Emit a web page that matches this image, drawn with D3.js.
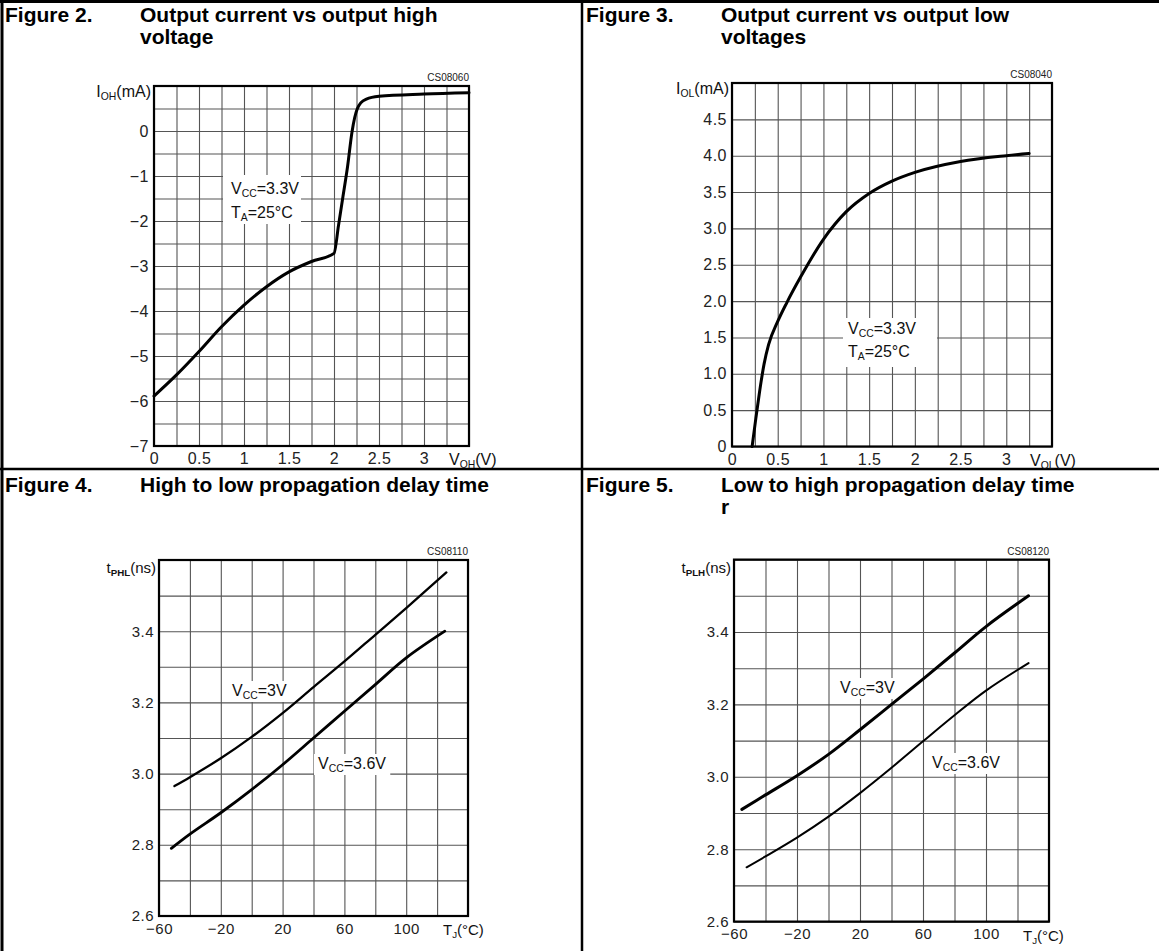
<!DOCTYPE html>
<html>
<head>
<meta charset="utf-8">
<script src="https://d3js.org/d3.v7.min.js"></script>
<style>
  body { margin: 0; background: #fff; }
  svg { display: block; }
</style>
</head>
<body>
<div id="chart"></div>
<script>
// Figure 2 : I_OH vs V_OH
let fig2Voh = [0, 0.25, 0.5, 0.75, 1.0, 1.25, 1.5, 1.75, 2.0, 2.05, 2.1, 2.15, 2.2, 2.23, 2.26, 2.3, 2.36, 2.5, 3.0, 3.5];
let fig2Ioh = [-5.89, -5.42, -4.9, -4.35, -3.87, -3.46, -3.13, -2.9, -2.72, -2.1, -1.45, -0.8, -0.02, 0.3, 0.5, 0.63, 0.71, 0.77, 0.82, 0.85];

// Figure 3 : I_OL vs V_OL
let fig3Vol = [0.22, 0.26, 0.3, 0.35, 0.4, 0.5, 0.6, 0.75, 1.0, 1.25, 1.5, 1.75, 2.0, 2.5, 3.0, 3.25];
let fig3Iol = [0, 0.38, 0.74, 1.13, 1.40, 1.72, 1.98, 2.33, 2.85, 3.23, 3.48, 3.65, 3.77, 3.92, 4.0, 4.03];

// Figure 4 : tPHL vs Tj
let fig4Temp3V = [-50, -40, -20, 0, 20, 40, 60, 80, 100, 126];
let fig4Phl3V = [2.965, 2.99, 3.043, 3.103, 3.17, 3.243, 3.315, 3.39, 3.465, 3.565];
let fig4Temp36V = [-52, -40, -20, 0, 20, 40, 60, 80, 100, 125];
let fig4Phl36V = [2.79, 2.83, 2.89, 2.955, 3.025, 3.10, 3.175, 3.25, 3.325, 3.40];

// Figure 5 : tPLH vs Tj
let fig5Temp3V = [-55, -40, -20, 0, 20, 40, 60, 80, 100, 127];
let fig5Plh3V = [2.91, 2.95, 3.003, 3.062, 3.13, 3.20, 3.27, 3.342, 3.415, 3.50];
let fig5Temp36V = [-52, -40, -20, 0, 20, 40, 60, 80, 100, 127];
let fig5Plh36V = [2.75, 2.78, 2.832, 2.89, 2.955, 3.025, 3.098, 3.17, 3.238, 3.314];

// tick labels
let voltTicks = [0, 0.5, 1, 1.5, 2, 2.5, 3];
let fig2YTicks = [-7, -6, -5, -4, -3, -2, -1, 0];
let fig3YTicks = [0, 0.5, 1, 1.5, 2, 2.5, 3, 3.5, 4, 4.5];
let tempTicks = [-60, -20, 20, 60, 100];
let delayTicks = [2.6, 2.8, 3.0, 3.2, 3.4];

let svgWidth = 1159;
let svgHeight = 951;
let labelFont = "'Liberation Sans', Arial, sans-serif";

let svg = d3.select("#chart")
  .append("svg")
  .attr("width", svgWidth)
  .attr("height", svgHeight);

svg.append("rect").attr("width", svgWidth).attr("height", svgHeight).attr("fill", "#fff");

// text with subscripts: parts = [[text, isSub, bold], ...]
function richText(g, x, y, parts, opts) {
  opts = opts || {};
  let size = opts.size || 15;
  let t = g.append("text")
    .attr("x", x)
    .attr("y", y)
    .attr("font-family", labelFont)
    .attr("font-size", size)
    .attr("fill", "#111")
    .attr("text-anchor", opts.anchor || "start");
  let sub = false;
  parts.forEach(p => {
    let s = t.append("tspan").text(p[0]);
    if (p[1] && !sub) { s.attr("dy", 3).attr("font-size", size * 0.65); sub = true; }
    else if (p[1]) { s.attr("font-size", size * 0.65); }
    else if (!p[1] && sub) { s.attr("dy", -3); sub = false; }
    if (p[2]) s.attr("font-weight", "bold");
  });
  return t;
}

// white box behind a label
function boxed(g, textSel, pad) {
  let b = textSel.node().getBBox();
  g.insert("rect", () => textSel.node())
    .attr("x", b.x - pad)
    .attr("y", b.y - 1)
    .attr("width", b.width + pad * 2)
    .attr("height", b.height + 2)
    .attr("fill", "#fff");
}

function makePanel(o) {
  let g = svg.append("g");
  let x = d3.scaleLinear().domain(o.xDomain).range([o.left, o.right]);
  let y = d3.scaleLinear().domain(o.yDomain).range([o.bottom, o.top]);
  let w = o.right - o.left;
  let h = o.bottom - o.top;

  // vertical grid
  g.append("g")
    .attr("transform", `translate(0,${o.bottom})`)
    .call(d3.axisBottom(x).tickValues(d3.range(o.xDomain[0], o.xDomain[1] + 1e-9, o.xStep)).tickSize(-h).tickFormat(""))
    .call(a => a.select(".domain").remove())
    .selectAll("line").attr("stroke", "#555").attr("stroke-width", 1.1);

  // horizontal grid
  g.append("g")
    .attr("transform", `translate(${o.left},0)`)
    .call(d3.axisLeft(y).tickValues(d3.range(o.yDomain[0], o.yDomain[1] + 1e-9, o.yStep)).tickSize(-w).tickFormat(""))
    .call(a => a.select(".domain").remove())
    .selectAll("line").attr("stroke", "#555").attr("stroke-width", 1.1);

  // y tick labels
  g.append("g")
    .attr("transform", `translate(${o.left - 2},0)`)
    .call(d3.axisLeft(y).tickValues(o.yTicks).tickSize(0).tickPadding(3).tickFormat(o.yFormat))
    .call(a => a.select(".domain").remove())
    .attr("font-family", labelFont)
    .attr("font-size", o.tickSize)
    .attr("letter-spacing", 0.5)
    .selectAll("text").attr("fill", "#222");

  // x tick labels
  g.append("g")
    .attr("transform", `translate(0,${o.bottom})`)
    .call(d3.axisBottom(x).tickValues(o.xTicks).tickSize(0).tickPadding(7).tickFormat(o.xFormat))
    .call(a => a.select(".domain").remove())
    .attr("font-family", labelFont)
    .attr("font-size", o.tickSize)
    .attr("letter-spacing", 0.5)
    .selectAll("text").attr("fill", "#222");

  // frame
  g.append("rect")
    .attr("x", o.left).attr("y", o.top)
    .attr("width", w).attr("height", h)
    .attr("fill", "none").attr("stroke", "#000").attr("stroke-width", 2.2);

  // chart code
  g.append("text")
    .attr("x", o.right)
    .attr("y", o.top - 5)
    .attr("text-anchor", "end")
    .attr("font-family", labelFont)
    .attr("font-size", 10)
    .attr("fill", "#222")
    .text(o.code);

  // axis titles
  richText(g, o.left - 3, o.top + o.yTitleDrop, o.yTitle, { anchor: "end", size: o.tickSize });
  richText(g, o.right + o.xTitleShift, o.bottom + 19, o.xTitle, { size: o.tickSize });

  return { g: g, x: x, y: y };
}

function drawCurve(p, xs, ys, width, curve) {
  let pts = xs.map((v, i) => [v, ys[i]]);
  let line = d3.line()
    .x(d => p.x(d[0]))
    .y(d => p.y(d[1]))
    .curve(curve || d3.curveMonotoneX);
  p.g.append("path")
    .datum(pts)
    .attr("d", line)
    .attr("fill", "none")
    .attr("stroke", "#000")
    .attr("stroke-width", width)
    .attr("stroke-linejoin", "round")
    .attr("stroke-linecap", "round");
}

// page frame
svg.append("line").attr("x1", 0).attr("x2", svgWidth).attr("y1", 1.5).attr("y2", 1.5).attr("stroke", "#000").attr("stroke-width", 3);
svg.append("line").attr("x1", 2).attr("x2", 2).attr("y1", 0).attr("y2", svgHeight).attr("stroke", "#000").attr("stroke-width", 3);
svg.append("line").attr("x1", 582).attr("x2", 582).attr("y1", 0).attr("y2", svgHeight).attr("stroke", "#000").attr("stroke-width", 2.5);
svg.append("line").attr("x1", 0).attr("x2", svgWidth).attr("y1", 469).attr("y2", 469).attr("stroke", "#000").attr("stroke-width", 2.5);

// figure titles (wrapped caption kept in one text element)
function title(x, y, num, lines) {
  let t = svg.append("g")
    .attr("font-family", labelFont)
    .attr("font-weight", "bold")
    .attr("font-size", 21)
    .attr("fill", "#000");
  t.append("text").attr("x", x).attr("y", y).text(num);
  let cap = t.append("text").attr("x", x + 135).attr("y", y);
  lines.forEach((l, i) => {
    cap.append("tspan")
      .attr("x", x + 135)
      .attr("dy", i === 0 ? 0 : 22)
      .text(l);
  });
}
title(5, 22, "Figure 2.", ["Output current vs output high", "voltage"]);
title(586, 22, "Figure 3.", ["Output current vs output low", "voltages"]);
title(5, 492, "Figure 4.", ["High to low propagation delay time"]);
title(586, 492, "Figure 5.", ["Low to high propagation delay time", "r"]);

// ---- Figure 2
let p2 = makePanel({
  left: 154, right: 469, top: 86, bottom: 446,
  xDomain: [0, 3.5], yDomain: [-7, 1], xStep: 0.25, yStep: 0.5,
  xTicks: voltTicks, yTicks: fig2YTicks, tickSize: 16,
  xFormat: d3.format(""), yFormat: d3.format(""),
  code: "CS08060",
  yTitle: [["I"], ["OH", true], ["(mA)"]], yTitleDrop: 11,
  xTitle: [["V"], ["OH", true], ["(V)"]], xTitleShift: -20
});
let ann2a = richText(p2.g, 231, 194, [["V"], ["CC", true], ["=3.3V"]], { size: 16 });
let ann2b = richText(p2.g, 231, 218, [["T"], ["A", true], ["=25°C"]], { size: 16 });
p2.g.insert("rect", () => ann2a.node()).attr("x", 223).attr("y", 175).attr("width", 78).attr("height", 49).attr("fill", "#fff");
drawCurve(p2, fig2Voh, fig2Ioh, 3);

// ---- Figure 3
let p3 = makePanel({
  left: 732, right: 1052, top: 83, bottom: 446.5,
  xDomain: [0, 3.5], yDomain: [0, 5], xStep: 0.25, yStep: 0.5,
  xTicks: voltTicks, yTicks: fig3YTicks, tickSize: 16,
  xFormat: d3.format(""), yFormat: d => d === 0 ? "0" : d3.format(".1f")(d),
  code: "CS08040",
  yTitle: [["I"], ["OL", true], ["(mA)"]], yTitleDrop: 11,
  xTitle: [["V"], ["OL", true], ["(V)"]], xTitleShift: -22
});
let ann3a = richText(p3.g, 848, 334, [["V"], ["CC", true], ["=3.3V"]], { size: 16 });
let ann3b = richText(p3.g, 848, 357, [["T"], ["A", true], ["=25°C"]], { size: 16 });
p3.g.insert("rect", () => ann3a.node()).attr("x", 843).attr("y", 318).attr("width", 94).attr("height", 49).attr("fill", "#fff");
drawCurve(p3, fig3Vol, fig3Iol, 3);

// ---- Figure 4
let p4 = makePanel({
  left: 159, right: 468, top: 560, bottom: 916,
  xDomain: [-60, 140], yDomain: [2.6, 3.6], xStep: 20, yStep: 0.1,
  xTicks: tempTicks, yTicks: delayTicks, tickSize: 15,
  xFormat: d3.format(""), yFormat: d3.format(".1f"),
  code: "CS08110",
  yTitle: [["t"], ["PHL", true, true], ["(ns)"]], yTitleDrop: 13,
  xTitle: [["T"], ["J", true], ["(°C)"]], xTitleShift: -25
});
let l4a = richText(p4.g, 232, 696, [["V"], ["CC", true], ["=3V"]], { size: 16 });
boxed(p4.g, l4a, 4);
let l4b = richText(p4.g, 318, 769, [["V"], ["CC", true], ["=3.6V"]], { size: 16 });
boxed(p4.g, l4b, 4);
drawCurve(p4, fig4Temp3V, fig4Phl3V, 2.3, d3.curveCatmullRom);
drawCurve(p4, fig4Temp36V, fig4Phl36V, 2.8, d3.curveCatmullRom);

// ---- Figure 5
let p5 = makePanel({
  left: 734, right: 1049, top: 559.6, bottom: 921.6,
  xDomain: [-60, 140], yDomain: [2.6, 3.6], xStep: 20, yStep: 0.1,
  xTicks: tempTicks, yTicks: delayTicks, tickSize: 15,
  xFormat: d3.format(""), yFormat: d3.format(".1f"),
  code: "CS08120",
  yTitle: [["t"], ["PLH", true, true], ["(ns)"]], yTitleDrop: 13,
  xTitle: [["T"], ["J", true], ["(°C)"]], xTitleShift: -26
});
let l5a = richText(p5.g, 840, 693, [["V"], ["CC", true], ["=3V"]], { size: 16 });
boxed(p5.g, l5a, 4);
let l5b = richText(p5.g, 932, 768, [["V"], ["CC", true], ["=3.6V"]], { size: 16 });
boxed(p5.g, l5b, 4);
drawCurve(p5, fig5Temp3V, fig5Plh3V, 3, d3.curveCatmullRom);
drawCurve(p5, fig5Temp36V, fig5Plh36V, 2, d3.curveCatmullRom);
</script>
</body>
</html>
